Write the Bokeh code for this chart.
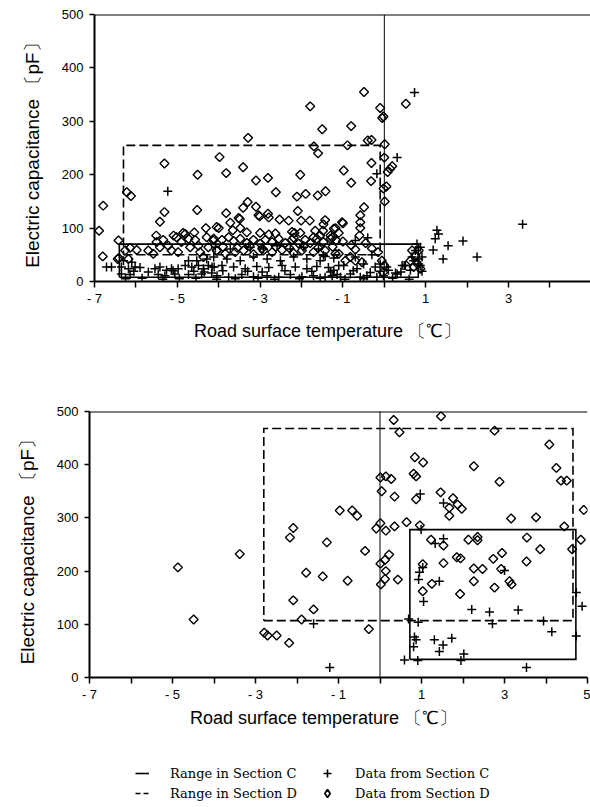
import math
from bokeh.plotting import figure
from bokeh.models import Span, FixedTicker, Legend, LegendItem
from bokeh.embed import file_html
from bokeh.resources import INLINE

# ---------------- data ----------------
# Top chart (section C crosses, section D diamonds)
top_c_x = [-5.23, 0.73, 0.31, -0.18, -0.40, -0.70, 1.27, 1.31, 1.23, 1.54, 1.90, 1.18, 1.42, 2.24, 3.34,
           0.87, 0.91, 0.83, 0.91, 0.48, 0.67, 0.27, -0.10, 0.06, -1.47, -0.30, -0.70,
           0.43, 0.63, 0.71, 0.83, 0.87, 0.75, 0.79, 0.51, 0.31, 0.10, -0.02, -0.22, -0.34, -0.50, -0.66,
           -0.82, -0.98, -1.22, -1.26, -1.06, -0.58, -0.42, -0.18,
           -6.71, -6.59, -6.35, -6.18, -6.02, -5.90, -5.54, -5.42, -5.26, -5.14, -4.98, -4.81, -4.65, -4.49,
           -4.37, -4.25, -4.11, -6.35, -6.14, -5.46, -5.30, -5.06, -4.73, -4.41, -4.17, -6.30, -6.10, -4.73,
           -4.53, -4.29,
           -4.08, -3.72, -3.24, -2.92, -2.59, -2.27, -1.95, -1.59, -1.43,
           -4.12, -3.80, -3.48, -3.16, -2.83, -2.51, -2.19, -1.87, -1.55, -1.22,
           -4.16, -3.92, -3.64, -3.36, -3.08, -2.79, -2.47, -2.15, -1.87, -1.63, -1.35, -1.10,
           -4.04, -3.76, -3.44, -3.16, -2.83, -2.55, -2.27, -1.99, -1.71, -1.43, -1.14,
           -6.25, -5.85, -5.35, -4.95, -4.55, -4.05, -3.60, -3.05, -2.65, -2.05, -1.55, -0.95, -0.50,
           0.20, 0.60,
           -6.05, -5.70, -5.10, -4.60, -4.35, -3.90, -3.30, -2.95, -2.40, -1.75, -1.30, -0.75, -0.10, 0.40]
top_c_y = [169, 354, 232, 202, 82, 77, 96, 89, 80, 67, 76, 59, 42, 46, 107,
           64, 46, 33, 19, 30, 46, 16, 33, 27, 49, 50, 46,
           30, 21, 39, 42, 30, 58, 70, 30, 14, 21, 11, 27, 17, 33, 24,
           14, 30, 21, 11, 8, 8, 11, 8,
           27, 27, 27, 24, 27, 26, 24, 27, 21, 24, 24, 30, 27, 30,
           24, 30, 27, 14, 13, 13, 11, 14, 13, 14, 16, 39, 36, 39,
           39, 42,
           64, 61, 64, 61, 67, 61, 64, 61, 47,
           46, 42, 39, 46, 42, 39, 46, 42, 39, 44,
           27, 30, 27, 24, 28, 26, 30, 27, 24, 28, 26, 30,
           11, 8, 13, 9, 11, 8, 13, 9, 11, 8, 13,
           5, 6, 4, 5, 6, 4, 5, 6, 4, 5, 6, 4, 5,
           6, 4,
           19, 18, 20, 19, 18, 20, 19, 18, 20, 19, 18, 20, 19, 18]

top_d_x = [-6.89, -6.79, -6.80, -6.44, -6.42, -6.22, -6.12, -5.31, -5.31, -5.42, -4.51, -4.52,
           -3.98, -3.82, -3.41, -3.29, -3.10, -2.81, -3.30, -3.10, -3.41, -3.82, -3.04, -2.81,
           -2.62, -2.11, -1.90, -1.61, -1.42, -2.09, -3.01, -2.79, -2.53, -2.31, -2.01, -1.80,
           -1.43, -1.47, -1.02, -1.22, -1.30, -3.52, -3.72, -4.00, -3.66, -3.48, -4.31, -4.05, -3.49,
           -2.03, -1.79, -0.49, 0.52, -0.10, -0.05, -0.02, -1.50, -0.80, -1.70, -1.60, -0.89, -0.40,
           -0.31, 0.01, -0.31, 0.19, 0.14, 0.08, -0.98, -0.80, -0.32, 0.00, -0.02, 0.05, 0.01, -0.49,
           -0.58, -0.58, -0.58, -0.60, -1.00, -1.18, -1.10, -1.26, -2.17, -2.19, -2.03, -1.67, -1.48,
           -1.71, -1.55, -3.32, -3.00, -2.79, -2.63, -2.23,
           -6.26, -6.14, -5.98, -5.70, -5.50, -5.42, -5.34, -5.22, -5.14, -5.02, -4.90, -4.81, -4.73,
           -4.69, -4.59, -4.57, -4.49, -4.45, -4.29, -4.25, -4.13, -4.05, -6.41, -6.18, -5.58, -4.98,
           -4.37, -5.51, -5.09, -4.86,
           -4.12, -3.92, -3.76, -3.64, -3.48, -3.32, -3.16, -3.00, -2.87, -2.71, -2.55, -2.39, -2.23,
           -2.07, -1.91, -1.79, -1.63, -1.47, -1.30, -1.16,
           -4.04, -3.84, -3.60, -3.40, -3.16, -2.92, -2.71, -2.47, -2.19, -1.99, -1.71, -1.43, -1.18,
           -3.90, -3.55, -3.25, -2.95, -2.62, -2.30, -1.95, -1.60, -1.25,
           0.67, 0.75, 0.83, 0.63, 0.80, 0.87, 0.71, -0.06, 0.00, -0.03, -0.94, -0.82, -0.70, -0.54,
           -1.10, -1.00, -0.80, -0.70, -0.45, -0.30, -0.15]
top_d_y = [95, 142, 47, 42, 77, 167, 160, 221, 130, 112, 200, 134,
           233, 203, 214, 269, 189, 194, 149, 140, 138, 128, 124, 127,
           167, 159, 164, 161, 169, 132, 122, 120, 116, 114, 114, 114,
           115, 107, 111, 99, 86, 119, 110, 100, 96, 100, 100, 102, 117,
           200, 328, 355, 333, 325, 306, 309, 285, 291, 253, 240, 255, 264,
           265, 257, 222, 216, 211, 205, 208, 185, 188, 232, 174, 178, 150, 139,
           124, 111, 100, 86, 109, 100, 91, 82, 91, 82, 91, 95, 95,
           83, 86, 92, 91, 88, 90, 93,
           58, 63, 59, 58, 74, 64, 78, 67, 58, 83, 74, 89, 80,
           64, 92, 78, 67, 55, 83, 64, 77, 58, 44, 42, 52, 55,
           46, 86, 86, 91,
           80, 78, 83, 76, 80, 72, 78, 71, 78, 74, 80, 72, 78,
           71, 78, 72, 80, 74, 80, 77,
           58, 52, 55, 58, 51, 58, 55, 59, 53, 58, 55, 58, 52,
           65, 63, 66, 62, 65, 63, 66, 63, 65,
           58, 49, 58, 39, 33, 24, 27, 39, 30, 17, 39, 46, 39, 36,
           52, 75, 68, 60, 72, 62, 55]

# Bottom chart
bot_c_x = [-1.60, -1.21, 0.97, 1.53, 0.99, 1.33, 1.53, 1.03, 0.95, 0.93, 1.43, 3.00, 1.05, 2.21, 2.64,
           3.33, 4.73, 4.87, 0.69, 0.92, 2.71, 3.94, 4.14, 4.73, 3.53, 0.59, 0.91, 1.95, 2.02, 1.31,
           1.52, 1.43, 1.73, 0.83, 0.87, 0.81]
bot_c_y = [101, 19, 345, 328, 278, 252, 261, 207, 198, 184, 181, 201, 143, 128, 123,
           127, 160, 134, 110, 104, 101, 106, 86, 78, 19, 33, 32, 32, 44, 71,
           61, 49, 74, 76, 71, 58]

bot_d_x = [-4.87, -4.49, -3.38, -2.79, -2.71, -2.49, -2.19, -2.09, -2.17, -2.09, -1.89, -1.60, -1.78,
           -1.38, -1.28, -0.97, -0.67, -0.55, -0.78, -0.36, -0.27,
           0.01, 0.14, 0.04, 0.01, -0.09, 0.14, 0.01, 0.12, 0.14, 0.12, 0.02,
           0.33, 1.47, 0.47, 2.76, 4.08, 0.84, 1.04, 2.26, 4.25, 4.36, 4.50, 2.88, 0.27, 0.81, 0.87,
           0.35, 0.87, 1.46, 1.76, 1.87, 1.97, 1.67, 1.67, 3.16, 3.76, 4.91, 0.64, 0.96, 0.35, 4.44,
           1.23, 1.53, 2.13, 2.35, 2.35, 3.54, 3.86, 4.84, 4.63, 2.94, 2.73, 1.85, 1.94, 1.03, 1.53,
           2.26, 2.47, 2.92, 3.53, 2.26, 1.25, 1.03, 1.93, 2.76, 3.12, 3.17, 0.22, 0.43]
bot_d_y = [207, 109, 232, 84, 79, 79, 65, 145, 263, 281, 109, 128, 197,
           190, 254, 314, 314, 304, 182, 238, 91,
           376, 378, 350, 290, 280, 276, 214, 221, 200, 185, 175,
           484, 491, 461, 464, 438, 414, 404, 397, 394, 370, 370, 368, 373, 383, 378,
           340, 335, 348, 337, 325, 317, 319, 304, 299, 301, 315, 292, 286, 284, 284,
           259, 248, 259, 264, 258, 263, 241, 259, 241, 234, 223, 226, 224, 213, 215,
           205, 204, 204, 218, 181, 176, 162, 157, 169, 181, 175, 231, 184]

# Ranges: [x_min, x_max, y_min, y_max]
top_range_c = [-6.4, 0.82, 8, 70]
top_range_d = [-6.3, -0.1, 50, 255]
bot_range_c = [0.72, 4.72, 34, 278]
bot_range_d = [-2.8, 4.65, 107, 468]

x_ticks_top = [-7, -6, -5, -4, -3, -2, -1, 0, 1, 2, 3, 4]
x_ticks_bot = [-7, -6, -5, -4, -3, -2, -1, 0, 1, 2, 3, 4, 5]
x_tick_labels = {-7: "- 7", -6: "", -5: "- 5", -4: "", -3: "- 3", -2: "", -1: "- 1",
                 0: "", 1: "1", 2: "", 3: "3", 4: "", 5: "5"}
y_ticks = [0, 100, 200, 300, 400, 500]

x_title = "Road surface temperature 〔℃〕\u00a0\u00a0\u00a0\u00a0\u00a0\u00a0"
y_title = "Electric capacitance  〔pF〕"
legend_labels = ["Range in Section C", "Range in Section D",
                 "Data from Section C", "Data from Section D"]
NAN = [float("nan")]

TICK_FONT = "Liberation Sans"
LABEL_FONT = "Liberation Sans"


def box(r):
    x0, x1, y0, y1 = r
    return [x0, x1, x1, x0, x0], [y0, y0, y1, y1, y0]


def make_plot(width, height, xr, borders, ticks_x, x_standoff):
    p = figure(width=width, height=height, x_range=xr, y_range=(0, 500),
               output_backend="svg", toolbar_location=None,
               min_border_left=borders[0], min_border_right=borders[1],
               min_border_top=borders[2], min_border_bottom=borders[3])
    p.outline_line_color = None
    p.grid.visible = False
    p.background_fill_color = "white"
    p.border_fill_color = "white"
    for ax in (p.xaxis[0], p.yaxis[0]):
        ax.axis_line_width = 2
        ax.axis_line_color = "black"
        ax.major_tick_line_width = 1.5
        ax.major_tick_line_color = "black"
        ax.major_tick_in = 0
        ax.minor_tick_line_color = None
        ax.major_label_text_font = TICK_FONT
        ax.major_label_text_font_size = "13px"
        ax.major_label_text_color = "black"
        ax.axis_label_text_font = LABEL_FONT
        ax.axis_label_text_font_size = "18px"
        ax.axis_label_text_font_style = "normal"
        ax.axis_label_text_color = "black"
    xa = p.xaxis[0]
    xa.ticker = FixedTicker(ticks=ticks_x)
    xa.major_label_overrides = x_tick_labels
    xa.major_tick_out = 6
    xa.major_label_standoff = 3
    xa.axis_label = x_title
    xa.axis_label_standoff = x_standoff
    ya = p.yaxis[0]
    ya.ticker = FixedTicker(ticks=y_ticks)
    ya.major_tick_out = 5
    ya.major_label_standoff = 6
    ya.axis_label = y_title
    ya.axis_label_text_font_size = "19px"
    ya.axis_label_standoff = 16
    p.add_layout(Span(location=500, dimension="width", line_color="black", line_width=2))
    p.add_layout(Span(location=0, dimension="height", line_color="black", line_width=1))
    return p


def draw(p, cx, cy, dx, dy, rc, rd):
    bx, by = box(rc)
    p.line(bx, by, line_color="black", line_width=1.6, line_join="miter")
    bx, by = box(rd)
    p.line(bx, by, line_color="black", line_width=1.6, line_dash="9 4", line_join="miter")
    p.scatter(dx, dy, marker="square", angle=math.pi / 4, size=6.3,
              fill_color=None, line_color="black", line_width=1.4)
    p.scatter(cx, cy, marker="cross", size=9, line_color="black", line_width=1.5)


p1 = make_plot(590, 350, (-7, 4.98), (94, 0, 14, 69), x_ticks_top, 12)
draw(p1, top_c_x, top_c_y, top_d_x, top_d_y, top_range_c, top_range_d)

p2 = make_plot(590, 405, (-7, 5), (89, 3, 61, 78), x_ticks_bot, 3)
draw(p2, bot_c_x, bot_c_y, bot_d_x, bot_d_y, bot_range_c, bot_range_d)

# legend panel: key samples only (no visible data)
p3 = figure(width=590, height=52, x_range=(0, 1), y_range=(0, 1),
            output_backend="svg", toolbar_location=None,
            min_border_left=0, min_border_right=0, min_border_top=0, min_border_bottom=0)
p3.axis.visible = False
p3.grid.visible = False
p3.outline_line_color = None
lc = p3.line(NAN, NAN, line_color="black", line_width=1.6)
ld = p3.line(NAN, NAN, line_color="black", line_width=1.6, line_dash="5 3")
sc = p3.scatter(NAN, NAN, marker="cross", size=10, line_color="black", line_width=1.6)
sd = p3.scatter(NAN, NAN, marker="diamond", size=10,
                fill_color=None, line_color="black", line_width=1.8)


def make_legend(items, loc, gw, standoff):
    lg = Legend(items=items, location=loc, orientation="vertical")
    lg.label_text_font = "DejaVu Serif"
    lg.label_text_font_size = "13px"
    lg.label_text_color = "black"
    lg.background_fill_alpha = 0
    lg.border_line_color = None
    lg.padding = 0
    lg.margin = 0
    lg.spacing = 0
    lg.glyph_width = gw
    lg.glyph_height = 20
    lg.label_height = 20
    lg.label_standoff = standoff
    return lg


leg1 = make_legend([LegendItem(label=legend_labels[0], renderers=[lc]),
                    LegendItem(label=legend_labels[1], renderers=[ld])], (135, 4), 14, 21)
leg2 = make_legend([LegendItem(label=legend_labels[2], renderers=[sc]),
                    LegendItem(label=legend_labels[3], renderers=[sd])], (316, 4), 22, 17)
p3.add_layout(leg1)
p3.add_layout(leg2)

open("out.html", "w").write(file_html([p1, p2, p3], INLINE))
